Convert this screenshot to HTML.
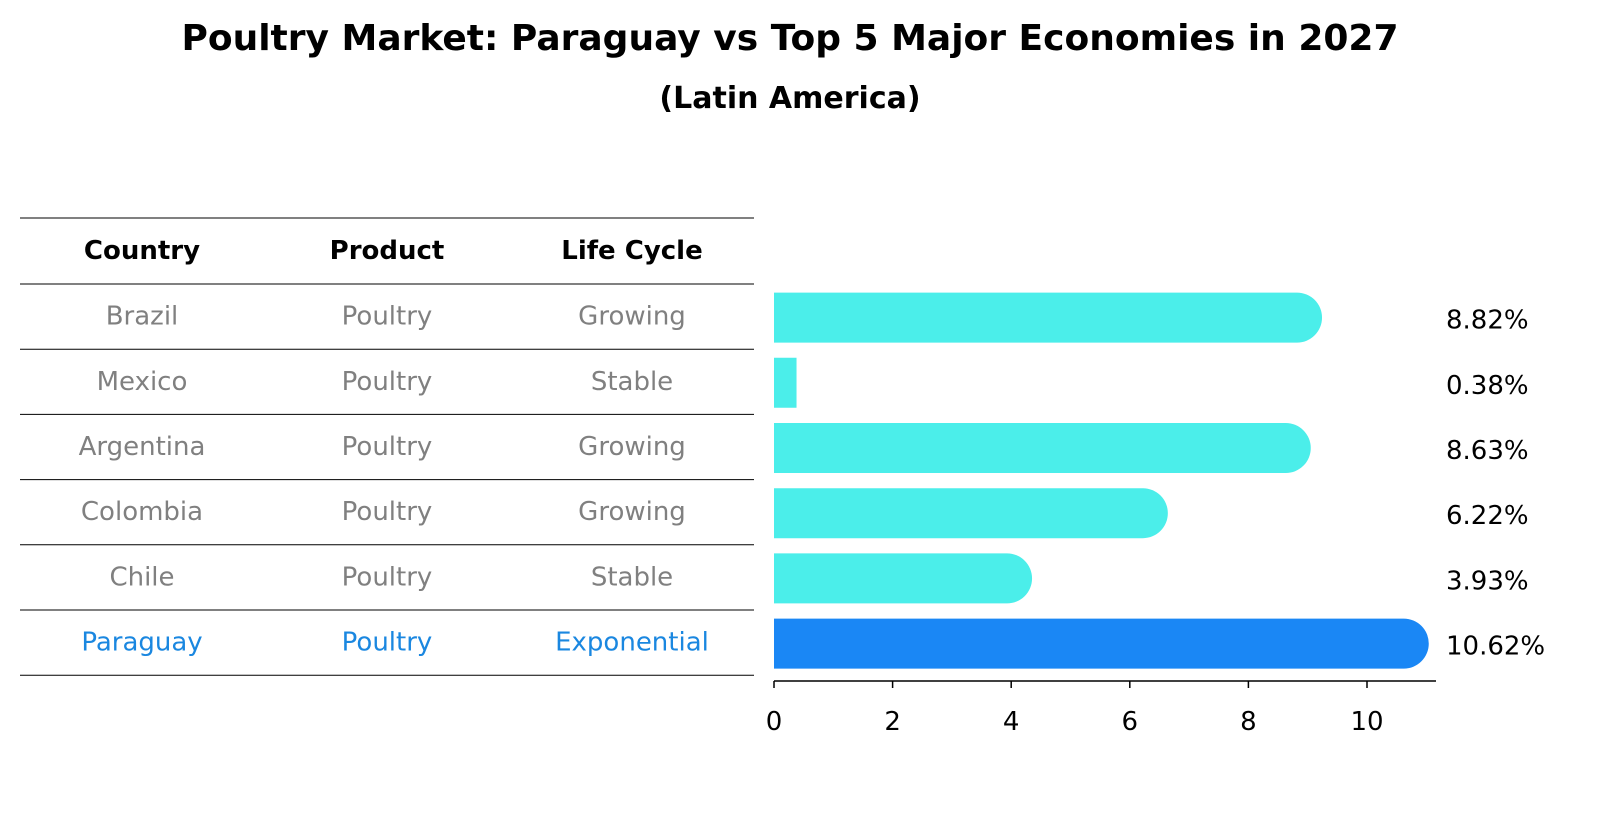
<!DOCTYPE html>
<html><head><meta charset="utf-8"><style>
body{margin:0;background:#fff;font-family:"DejaVu Sans","Liberation Sans",sans-serif;}
svg text{font-family:"DejaVu Sans","Liberation Sans",sans-serif;}
</style></head><body>
<svg id="chart" width="1604" height="823" xmlns="http://www.w3.org/2000/svg">
<text x="790" y="50" text-anchor="middle" font-size="36" font-weight="bold">Poultry Market: Paraguay vs Top 5 Major Economies in 2027</text>
<text x="790" y="108" text-anchor="middle" font-size="30" font-weight="bold">(Latin America)</text>
<g id="table"></g>
<g id="bars"></g>
<g id="axis"></g>
</svg>
<script>
const countries=["Brazil","Mexico","Argentina","Colombia","Chile","Paraguay"];
const products=["Poultry","Poultry","Poultry","Poultry","Poultry","Poultry"];
const lifecycles=["Growing","Stable","Growing","Growing","Stable","Exponential"];
const values=[8.82,0.38,8.63,6.22,3.93,10.62];
const valueLabels=["8.82%","0.38%","8.63%","6.22%","3.93%","10.62%"];
const ticks=[0,2,4,6,8,10];
const NS="http://www.w3.org/2000/svg";
function mk(tag,attrs,parent,txt){const e=document.createElementNS(NS,tag);for(const k in attrs)e.setAttribute(k,attrs[k]);if(txt!==undefined)e.textContent=txt;parent.appendChild(e);return e;}
const x0=774,pxPer=59.3;
const xs=v=>x0+v*pxPer;
const rowTop=284,rowH=65.2;
const yc=i=>rowTop+rowH*(i+0.5);
const table=document.getElementById('table'),bars=document.getElementById('bars'),axis=document.getElementById('axis');
for(let i=0;i<=countries.length+1;i++){
 const y=i===0?218:rowTop+rowH*(i-1);
 const l=mk('line',{x1:20,x2:754,y1:y,y2:y,stroke:'#000','stroke-width':1},table);
 
 
}
const cols=[142,387,632];
["Country","Product","Life Cycle"].forEach((h,j)=>{
 const t=mk('text',{x:cols[j],y:259,'text-anchor':'middle','font-size':26,'font-weight':'bold'},table,h);
 
 
});
countries.forEach((c,i)=>{
 const col=i===countries.length-1?'#1a87e0':'#808080';
 [c,products[i],lifecycles[i]].forEach((v,j)=>{
  const t=mk('text',{x:cols[j],y:yc(i)+8,'text-anchor':'middle','font-size':26,fill:col},table,v);
  
  
 });
 const h=50,top=yc(i)-h/2+1,xe=xs(values[i]);
 const fill=i===countries.length-1?'#1a87f5':'#4beeea';
 let d;
 if(values[i]>1){const r=h/2;d=`M${x0},${top} H${xe} A${r},${r} 0 0 1 ${xe},${top+h} H${x0} Z`;}
 else d=`M${x0},${top} H${xe} V${top+h} H${x0} Z`;
 const b=mk('path',{d:d,fill:fill},bars);
 
 
 const lt=mk('text',{x:1446,y:yc(i)+12,'font-size':26},bars,valueLabels[i]);
 
 
});
const al=mk('line',{x1:x0,x2:1436,y1:681,y2:681,stroke:'#000','stroke-width':1.5},axis);


ticks.forEach(t=>{
 const tm=mk('line',{x1:xs(t),x2:xs(t),y1:681,y2:688,stroke:'#000','stroke-width':1.5},axis);
 
 
 const tl=mk('text',{x:xs(t),y:730,'text-anchor':'middle','font-size':26},axis,String(t));
 
 
});
</script>
</body></html>
